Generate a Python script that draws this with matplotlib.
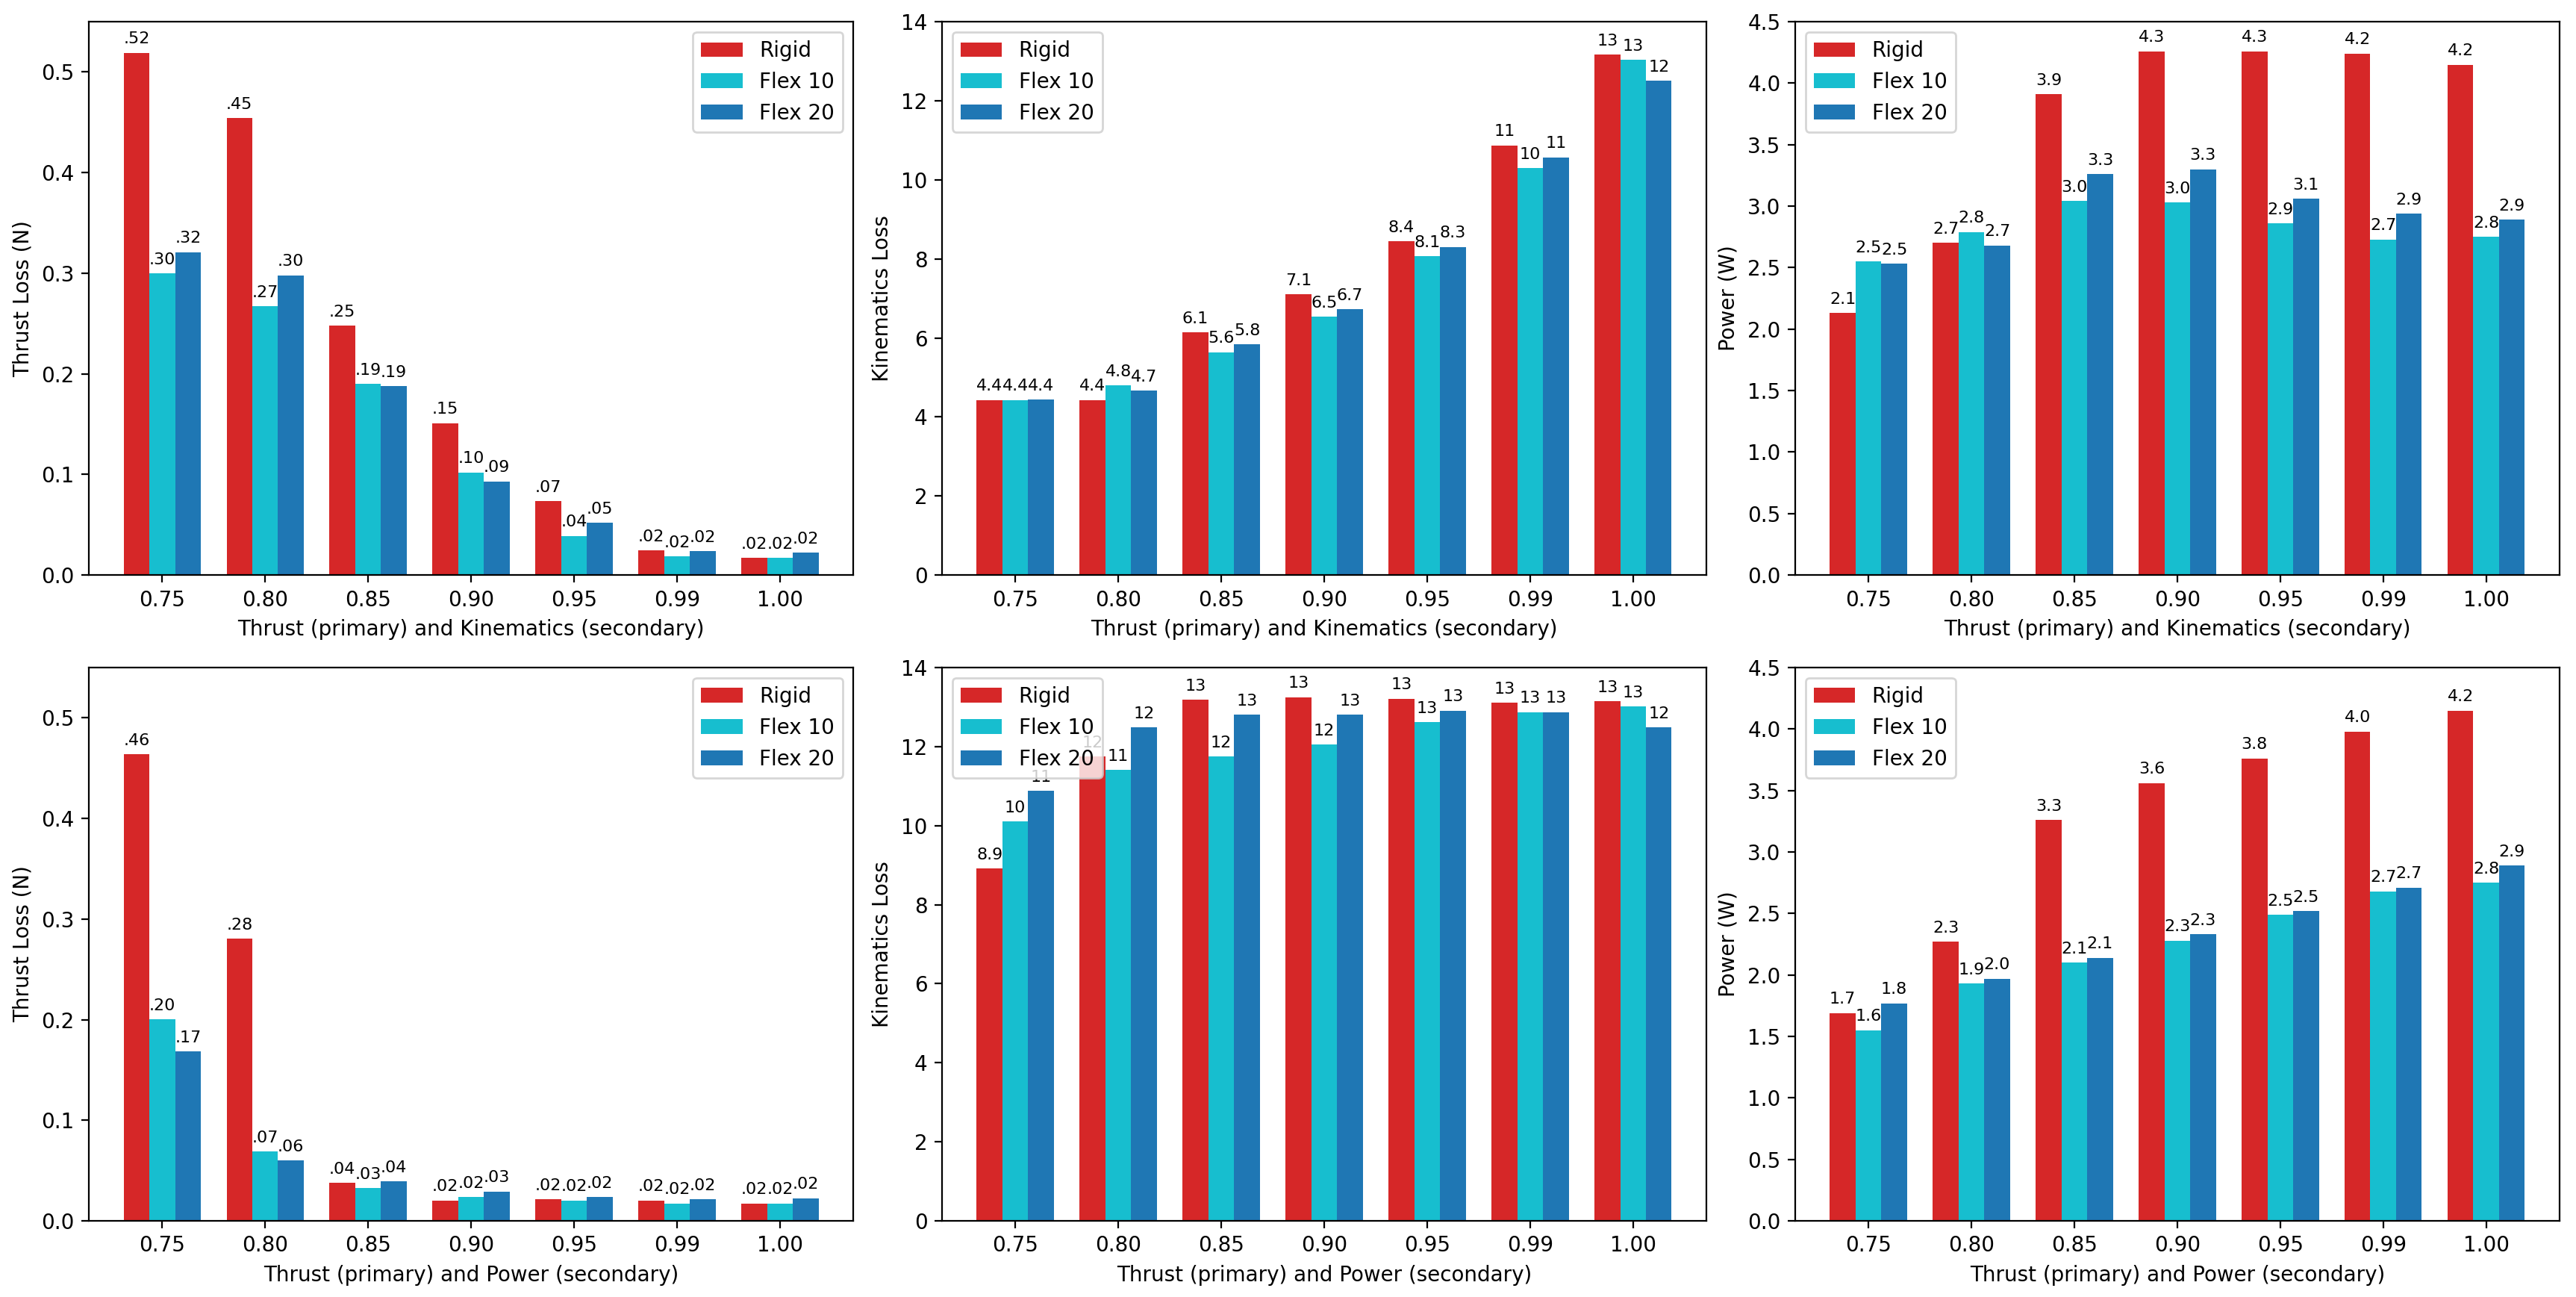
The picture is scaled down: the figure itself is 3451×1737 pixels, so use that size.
import numpy as np
import matplotlib
matplotlib.use("Agg")
import matplotlib.pyplot as plt

thresholds = ['0.75', '0.80', '0.85', '0.90', '0.95', '0.99', '1.00']
series_names = ['Rigid', 'Flex 10', 'Flex 20']
colors = ['#d62728', '#17becf', '#1f77b4']

# Top row: Thrust (primary) and Kinematics (secondary)
k_thrust_rigid = [0.519, 0.454, 0.248, 0.151, 0.0735, 0.0245, 0.0172]
k_thrust_flex10 = [0.300, 0.267, 0.190, 0.102, 0.039, 0.0183, 0.0172]
k_thrust_flex20 = [0.321, 0.298, 0.1875, 0.093, 0.052, 0.0235, 0.0224]

k_kin_rigid = [4.43, 4.43, 6.14, 7.10, 8.44, 10.87, 13.17]
k_kin_flex10 = [4.43, 4.80, 5.64, 6.54, 8.07, 10.30, 13.03]
k_kin_flex20 = [4.44, 4.67, 5.84, 6.73, 8.30, 10.57, 12.50]

k_pow_rigid = [2.13, 2.70, 3.91, 4.26, 4.26, 4.24, 4.15]
k_pow_flex10 = [2.55, 2.79, 3.04, 3.03, 2.86, 2.73, 2.75]
k_pow_flex20 = [2.53, 2.68, 3.26, 3.30, 3.06, 2.94, 2.89]

# Bottom row: Thrust (primary) and Power (secondary)
p_thrust_rigid = [0.4636, 0.2805, 0.0376, 0.0202, 0.0214, 0.0202, 0.0174]
p_thrust_flex10 = [0.2005, 0.0687, 0.0327, 0.0238, 0.0202, 0.0174, 0.0174]
p_thrust_flex20 = [0.1686, 0.0598, 0.0392, 0.0291, 0.0238, 0.0214, 0.0226]

p_kin_rigid = [8.91, 11.75, 13.18, 13.25, 13.21, 13.11, 13.15]
p_kin_flex10 = [10.11, 11.41, 11.75, 12.05, 12.61, 12.87, 13.01]
p_kin_flex20 = [10.88, 12.48, 12.81, 12.81, 12.91, 12.87, 12.48]

p_pow_rigid = [1.69, 2.27, 3.26, 3.56, 3.76, 3.98, 4.15]
p_pow_flex10 = [1.55, 1.93, 2.10, 2.28, 2.49, 2.68, 2.75]
p_pow_flex20 = [1.77, 1.97, 2.14, 2.33, 2.52, 2.71, 2.89]

xlabel_top = 'Thrust (primary) and Kinematics (secondary)'
xlabel_bottom = 'Thrust (primary) and Power (secondary)'


def fmt_thrust(v):
    return f"{v:.2f}".lstrip('0')


def fmt_other(v):
    return f"{v:.0f}" if v >= 10 else f"{v:.1f}"


panels = [
    [(k_thrust_rigid, k_thrust_flex10, k_thrust_flex20), 'Thrust Loss (N)', 0.55, fmt_thrust, 'upper right', xlabel_top],
    [(k_kin_rigid, k_kin_flex10, k_kin_flex20), 'Kinematics Loss', 14, fmt_other, 'upper left', xlabel_top],
    [(k_pow_rigid, k_pow_flex10, k_pow_flex20), 'Power (W)', 4.5, fmt_other, 'upper left', xlabel_top],
    [(p_thrust_rigid, p_thrust_flex10, p_thrust_flex20), 'Thrust Loss (N)', 0.55, fmt_thrust, 'upper right', xlabel_bottom],
    [(p_kin_rigid, p_kin_flex10, p_kin_flex20), 'Kinematics Loss', 14, fmt_other, 'upper left', xlabel_bottom],
    [(p_pow_rigid, p_pow_flex10, p_pow_flex20), 'Power (W)', 4.5, fmt_other, 'upper left', xlabel_bottom],
]

fig, axes = plt.subplots(2, 3, figsize=(17.255, 8.685), dpi=200)
fig.subplots_adjust(left=0.0345, right=0.9936, top=0.9833, bottom=0.0587,
                    wspace=0.116, hspace=0.167)

x = np.arange(len(thresholds))
width = 0.25
for ax, (data, ylabel, ymax, fmt, loc, xlabel) in zip(axes.flat, panels):
    for i, (vals, name, c) in enumerate(zip(data, series_names, colors)):
        bars = ax.bar(x + (i - 1) * width, vals, width, label=name, color=c)
        ax.bar_label(bars, labels=[fmt(v) for v in vals], padding=3, fontsize=8)
    ax.set_xticks(x)
    ax.set_xticklabels(thresholds)
    ax.set_ylim(0, ymax)
    ax.set_ylabel(ylabel)
    ax.set_xlabel(xlabel)
    ax.legend(loc=loc)

fig.savefig('out.png', dpi=200)
